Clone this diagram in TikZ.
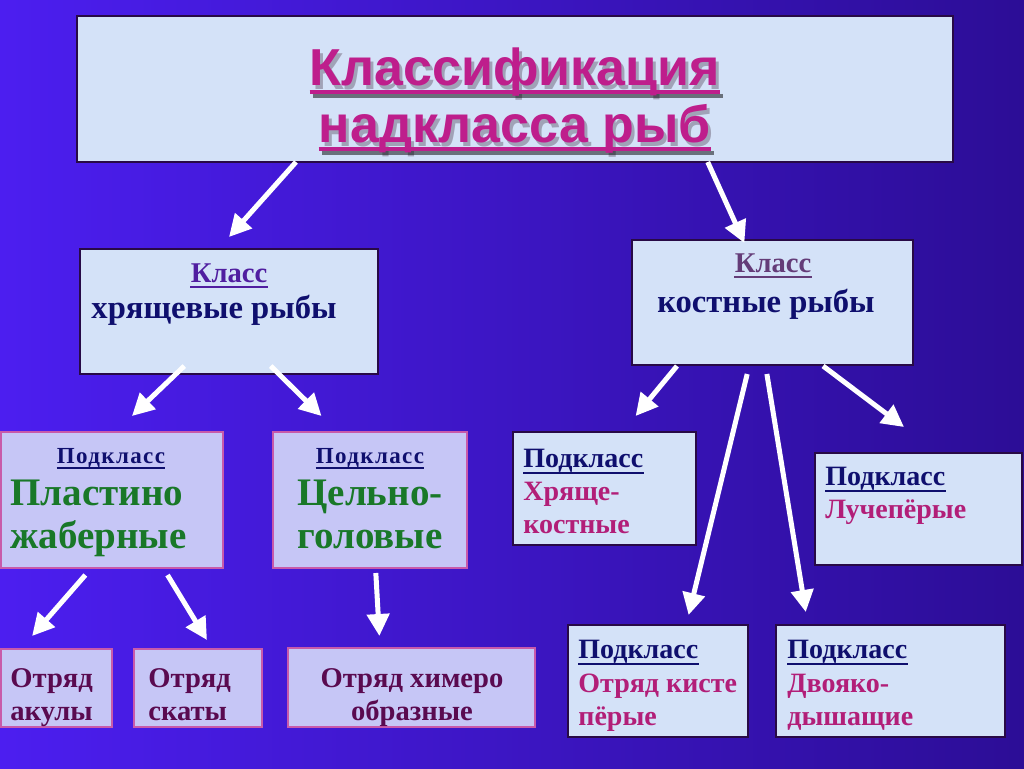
\documentclass[tikz,border=0pt]{standalone}
\usepackage{fontspec}
\setmainfont{Liberation Serif}
\newfontfamily\headfont{Liberation Sans}
\newfontfamily\spacedfont[LetterSpace=6]{Liberation Serif}
\usetikzlibrary{arrows.meta,calc,positioning}
\definecolor{bgleft}{RGB}{76,30,240}
\definecolor{bgright}{RGB}{44,13,150}
\definecolor{boxblue}{RGB}{212,226,248}
\definecolor{boxlav}{RGB}{198,198,246}
\definecolor{edgenavy}{RGB}{40,10,70}
\definecolor{edgepink}{RGB}{200,90,170}
\definecolor{titlemag}{RGB}{190,30,140}
\definecolor{shade}{RGB}{110,100,120}
\definecolor{clsviolet}{RGB}{80,30,160}
\definecolor{clsgrey}{RGB}{100,60,120}
\definecolor{navy}{RGB}{15,15,110}
\definecolor{leafgreen}{RGB}{25,120,40}
\definecolor{rosetext}{RGB}{178,30,120}
\definecolor{plum}{RGB}{90,10,80}
\begin{document}
\begin{tikzpicture}
[
    x=0.5pt, y=-0.5pt,
    bluebox/.style={draw=edgenavy, line width=0.6pt, fill=boxblue, inner sep=0pt, outer sep=0pt, anchor=north west},
    lavbox/.style={draw=edgepink, line width=0.6pt, fill=boxlav, inner sep=0pt, outer sep=0pt, anchor=north west},
    ttl/.style={inner sep=0pt, anchor=base, text=titlemag, font=\headfont\bfseries\fontsize{26}{30}\selectfont},
    hdr/.style={inner sep=0pt, anchor=base west, text=navy, font=\bfseries\fontsize{14}{16}\selectfont},
    body/.style={inner sep=0pt, anchor=base west, align=left, text=rosetext, font=\bfseries\fontsize{14}{16.5}\selectfont},
    order/.style={body, text=plum, font=\bfseries\fontsize{14.3}{16.5}\selectfont},
    ul/.style={line width=1pt},
    arr/.style={white, line width=2.5pt, -{Triangle[length=11pt,width=11pt]}},
]
\useasboundingbox (0,0) rectangle (1024,768);
\shade[left color=bgleft, right color=bgright] (0,0) rectangle (1024,768);

% boxes
\node[bluebox, minimum width=438pt, minimum height=73pt] (title) at (77,16) {};
\node[bluebox, minimum width=149pt, minimum height=62.5pt] (lcls) at (80,249) {};
\node[bluebox, minimum width=140.5pt, minimum height=62.5pt] (rcls) at (632,240) {};
\node[lavbox, minimum width=111pt, minimum height=68pt] (plast) at (1,432) {};
\node[lavbox, minimum width=97pt, minimum height=68pt] (tsel) at (273,432) {};
\node[bluebox, minimum width=91.5pt, minimum height=56.5pt] (khr) at (513,432) {};
\node[bluebox, minimum width=103.5pt, minimum height=56pt] (luch) at (815,453) {};
\node[lavbox, minimum width=55.5pt, minimum height=39pt] (akul) at (1,649) {};
\node[lavbox, minimum width=64pt, minimum height=39pt] (skat) at (134,649) {};
\node[lavbox, minimum width=123.5pt, minimum height=39.5pt] (khim) at (288,648) {};
\node[bluebox, minimum width=90pt, minimum height=56pt] (kist) at (568,625) {};
\node[bluebox, minimum width=114.5pt, minimum height=56pt] (dvo) at (776,625) {};

% title with its shadow
\node[ttl, text=shade, opacity=.5] (t1s) at (518,89) {Классификация};
\node[ttl, text=shade, opacity=.5] (t2s) at (518,146) {надкласса рыб};
\draw[shade, opacity=.5, line width=2pt] ([yshift=-3.5pt]t1s.base west) -- ([yshift=-3.5pt]t1s.base east);
\draw[shade, opacity=.5, line width=2pt] ([yshift=-3.5pt]t2s.base west) -- ([yshift=-3.5pt]t2s.base east);
\node[ttl] (t1) at (515,85) {Классификация};
\node[ttl] (t2) at (515,142) {надкласса рыб};
\draw[titlemag, line width=2pt] ([yshift=-3.5pt]t1.base west) -- ([yshift=-3.5pt]t1.base east);
\draw[titlemag, line width=2pt] ([yshift=-3.5pt]t2.base west) -- ([yshift=-3.5pt]t2.base east);

% classes
\node[hdr, anchor=base, text=clsviolet, font=\bfseries\fontsize{14.3}{16}\selectfont] (k1) at (229,282) {Класс};
\draw[clsviolet, ul] ([yshift=-2.5pt]k1.base west) -- ([yshift=-2.5pt]k1.base east);
\node[hdr, anchor=base, font=\bfseries\fontsize{16.3}{18}\selectfont] (k1b) at (214,318) {хрящевые рыбы};
\node[hdr, anchor=base, text=clsgrey, font=\bfseries\fontsize{14.3}{16}\selectfont] (k2) at (773,272) {Класс};
\draw[clsgrey, ul] ([yshift=-2.5pt]k2.base west) -- ([yshift=-2.5pt]k2.base east);
\node[hdr, anchor=base, font=\bfseries\fontsize{16.3}{18}\selectfont] (k2b) at (766,312) {костные рыбы};

% subclasses (base of a two-line node = its last line)
\node[hdr, anchor=base, font=\spacedfont\bfseries\fontsize{11.5}{13}\selectfont] (p1) at (111,463) {Подкласс};
\draw[navy, ul] ([yshift=-2.5pt]p1.base west) -- ([yshift=-2.5pt]p1.base east);
\node[body, text=leafgreen, font=\bfseries\fontsize{19.5}{21.5}\selectfont] (p1b) at (10,548) {Пластино\\жаберные};
\node[hdr, anchor=base, font=\spacedfont\bfseries\fontsize{11.5}{13}\selectfont] (p2) at (370,463) {Подкласс};
\draw[navy, ul] ([yshift=-2.5pt]p2.base west) -- ([yshift=-2.5pt]p2.base east);
\node[body, text=leafgreen, font=\bfseries\fontsize{19.5}{21.5}\selectfont] (p2b) at (297,548) {Цельно-\\головые};

\node[hdr] (p3) at (523,467) {Подкласс};
\draw[navy, ul] ([yshift=-3pt]p3.base west) -- ([yshift=-3pt]p3.base east);
\node[body] (p3b) at (523,533) {Хряще-\\костные};
\node[hdr] (p4) at (825,485) {Подкласс};
\draw[navy, ul] ([yshift=-3pt]p4.base west) -- ([yshift=-3pt]p4.base east);
\node[body] (p4b) at (825,518) {Лучепёрые};
\node[hdr] (p5) at (578,658) {Подкласс};
\draw[navy, ul] ([yshift=-3pt]p5.base west) -- ([yshift=-3pt]p5.base east);
\node[body] (p5b) at (578,725) {Отряд кисте\\пёрые};
\node[hdr] (p6) at (787,658) {Подкласс};
\draw[navy, ul] ([yshift=-3pt]p6.base west) -- ([yshift=-3pt]p6.base east);
\node[body] (p6b) at (787,725) {Двояко-\\дышащие};

% orders
\node[order] (o1) at (10,720) {Отряд\\акулы};
\node[order] (o2) at (148,720) {Отряд\\скаты};
\node[order, anchor=base, align=center] (o3) at (412,720) {Отряд химеро\\образные};

% arrows
\draw[arr] ($(title.south west)!.25!(title.south east)$) -- ($(lcls.north)+(0,-12)$);
\draw[arr] ($(title.south west)!.72!(title.south east)$) -- ($(rcls.north west)!.4!(rcls.north east)+(0,3)$);
\draw[arr] ($(lcls.south west)!.35!(lcls.south east)+(0,-8)$) -- ($(plast.north west)!.59!(plast.north east)+(0,-16)$);
\draw[arr] ($(lcls.south west)!.64!(lcls.south east)+(0,-8)$) -- ($(tsel.north west)!.25!(tsel.north east)+(0,-16)$);
\draw[arr] ($(rcls.south west)!.16!(rcls.south east)+(0,1)$) -- ($(khr.north west)!.67!(khr.north east)+(0,-16)$);
\draw[arr] ($(rcls.south west)!.41!(rcls.south east)+(0,9)$) -- ($(kist.north west)!.67!(kist.north east)+(0,-10)$);
\draw[arr] ($(rcls.south west)!.48!(rcls.south east)+(0,9)$) -- ($(dvo.north west)!.13!(dvo.north east)+(0,-13)$);
\draw[arr] ($(rcls.south west)!.68!(rcls.south east)+(0,1)$) -- ($(luch.north west)!.43!(luch.north east)+(0,-26)$);
\draw[arr] ($(plast.south west)!.38!(plast.south east)+(0,7)$) -- ($(akul.north west)!.28!(akul.north east)+(0,-13)$);
\draw[arr] ($(plast.south west)!.75!(plast.south east)+(0,7)$) -- ($(skat.north west)!.57!(skat.north east)+(0,-9)$);
\draw[arr] ($(tsel.south west)!.53!(tsel.south east)+(0,5)$) -- ($(khim.north west)!.37!(khim.north east)+(0,-12)$);
\end{tikzpicture}
\end{document}
